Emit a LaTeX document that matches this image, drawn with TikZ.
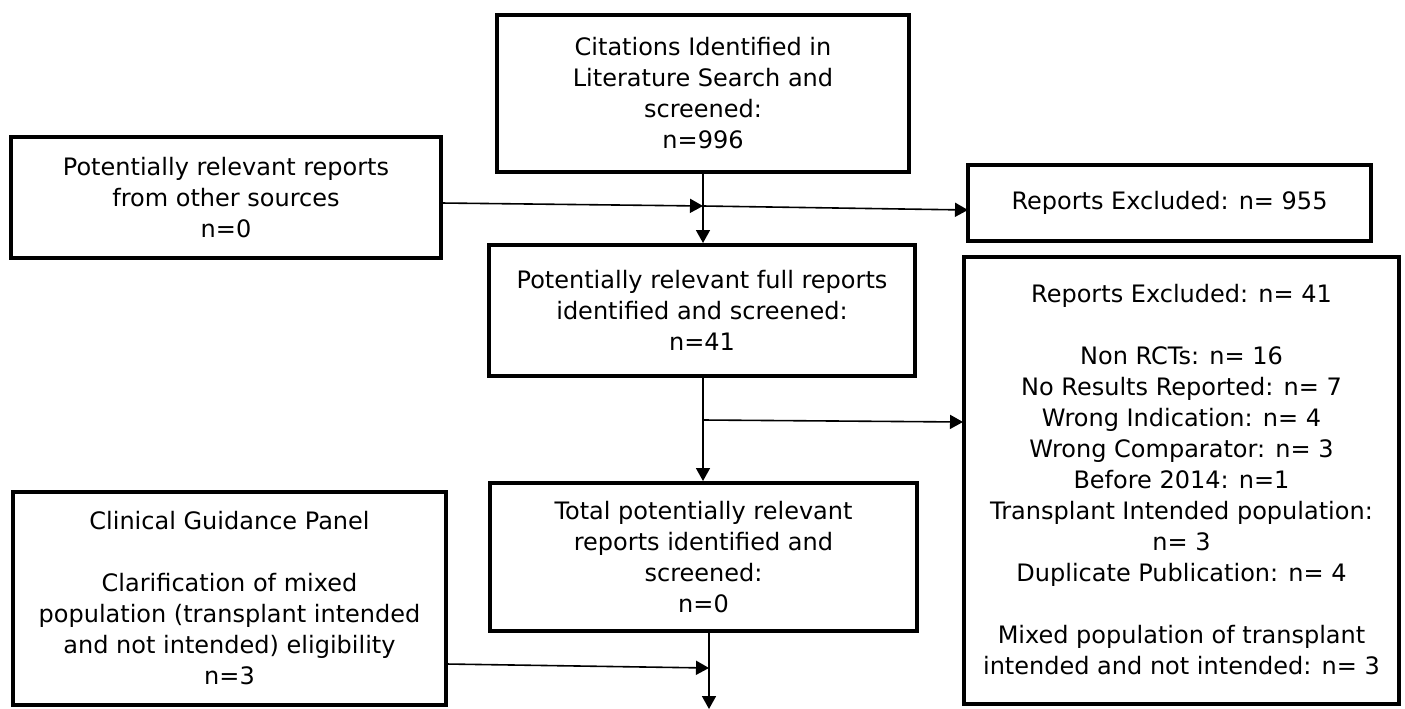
\documentclass[tikz,border=0pt]{standalone}
\usepackage{fontspec}
\setmainfont{DejaVu Sans}
\usetikzlibrary{arrows.meta}
\tikzset{
  flowbox/.style={draw=black, line width=4pt, fill=white, inner sep=0pt, align=center,
    font=\fontsize{24}{31}\selectfont, anchor=center},
  conn/.style={draw=black, line width=1.6pt},
  arr/.style={conn, -{Triangle[length=13pt,width=14pt]}},
}
\begin{document}
\begin{tikzpicture}[x=1pt,y=-1pt]
\useasboundingbox (0,0) rectangle (1405,709);
\node[flowbox, minimum width=412pt, minimum height=157pt] (top) at (703,93.5)
  {Citations Identified in\\Literature Search and\\screened:\\n=996};
\node[flowbox, minimum width=430pt, minimum height=121pt] (other) at (226,197.5)
  {Potentially relevant reports\\from other sources\\n=0};
\node[flowbox, minimum width=403pt, minimum height=76pt] (exa) at (1169.5,203)
  {Reports Excluded: n= 955};
\node[flowbox, minimum width=426pt, minimum height=131pt] (full) at (702,310.5)
  {Potentially relevant full reports\\identified and screened:\\n=41};
\node[flowbox, minimum width=435pt, minimum height=447pt] (exb) at (1181.5,480)
  {Reports Excluded: n= 41\\[31pt]
   Non RCTs: n= 16\\No Results Reported: n= 7\\Wrong Indication: n= 4\\
   Wrong Comparator: n= 3\\Before 2014: n=1\\Transplant Intended population:\\
   n= 3\\Duplicate Publication: n= 4\\[31pt]
   Mixed population of transplant\\intended and not intended: n= 3};
\node[flowbox, minimum width=427pt, minimum height=148pt] (total) at (703.5,557)
  {Total potentially relevant\\reports identified and\\screened:\\n=0};
\node[flowbox, minimum width=433pt, minimum height=213pt] (cgp) at (229.5,598.5)
  {Clinical Guidance Panel\\[31pt]Clarification of mixed\\population (transplant intended\\and not intended) eligibility\\n=3};
% junctions and free ends
\coordinate (j1) at (703,206);
\coordinate (j2) at (703,420);
\coordinate (j3) at (709,668);
\coordinate (o1) at (441,203);
\coordinate (e1) at (968,210);
\coordinate (e2) at (963,422);
\coordinate (c1) at (446,664);
\coordinate (t1) at (709,631);
\coordinate (endb) at (709,709);
% connectors
\draw[arr] (top.south -| j1) -- (full.north -| j1);
\draw[arr] (o1) -- (j1);
\draw[arr] (j1) -- (e1);
\draw[arr] (full.south -| j2) -- (total.north -| j2);
\draw[arr] (j2) -- (e2);
\draw[arr] (t1) -- (endb);
\draw[arr] (c1) -- (j3);
\end{tikzpicture}
\end{document}
